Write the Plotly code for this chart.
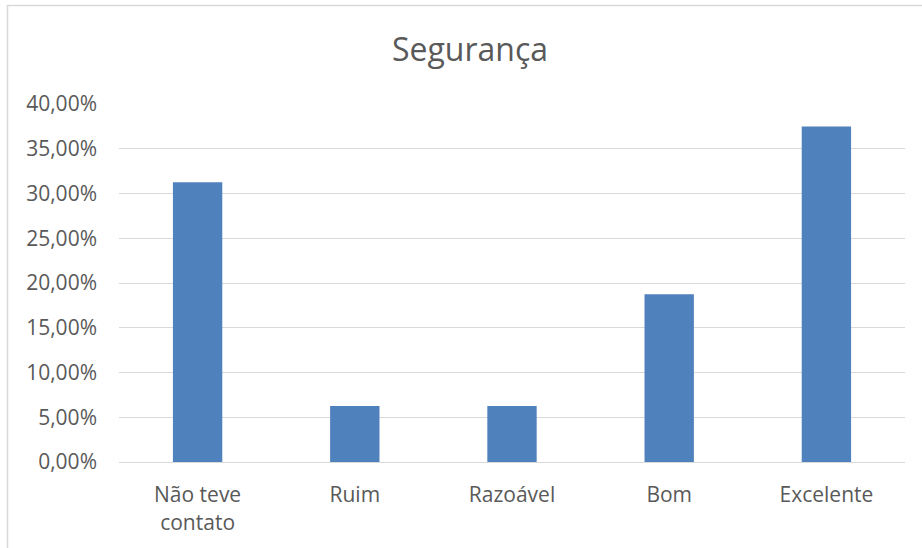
import plotly.graph_objects as go

# Survey results: rating of "Segurança"
categories = ["Não teve<br>contato", "Ruim", "Razoável", "Bom", "Excelente"]
shares = [0.3125, 0.0625, 0.0625, 0.1875, 0.375]
tick_values = [0.0, 0.05, 0.10, 0.15, 0.20, 0.25, 0.30, 0.35, 0.40]
tick_labels = ["0,00%", "5,00%", "10,00%", "15,00%", "20,00%",
               "25,00%", "30,00%", "35,00%", "40,00%"]

FONT = "Open Sans"
TEXT = "#595959"
GRID = "#D9D9D9"

fig = go.Figure(
    go.Bar(
        x=categories,
        y=shares,
        marker=dict(color="#4F81BD", line=dict(width=0)),
    )
)

W, H = 922, 548
L, R, T, B = 119, 17, 104, 86
pw, ph = W - L - R, H - T - B

fig.update_layout(
    width=W,
    height=H,
    margin=dict(l=L, r=R, t=T, b=B),
    paper_bgcolor="white",
    plot_bgcolor="white",
    bargap=0.686,
    showlegend=False,
    title=dict(
        text="Segurança",
        x=470 / W,
        xanchor="center",
        xref="container",
        y=1 - 50 / H,
        yanchor="middle",
        yref="container",
        font=dict(family=FONT, size=32, color=TEXT),
    ),
    font=dict(family=FONT, color=TEXT),
    shapes=[
        # chart-area border
        dict(
            type="rect",
            xref="paper",
            yref="paper",
            x0=(7.5 - L) / pw,
            x1=2.0,
            y0=-1.0,
            y1=(H - B - 5.5) / ph,
            line=dict(color=GRID, width=1.5),
            fillcolor="rgba(0,0,0,0)",
            layer="below",
        )
    ],
)

fig.update_xaxes(
    showgrid=False,
    showline=True,
    linecolor=GRID,
    linewidth=1,
    ticks="",
    ticklabelstandoff=14,
    tickfont=dict(family=FONT, size=21, color=TEXT),
)

fig.update_yaxes(
    range=[0, 0.40],
    tickvals=tick_values,
    ticktext=tick_labels,
    showgrid=True,
    gridcolor=GRID,
    gridwidth=1,
    zeroline=False,
    showline=False,
    ticks="",
    ticklabelstandoff=21,
    tickfont=dict(family=FONT, size=21, color=TEXT),
)

fig.write_html("out.html")
